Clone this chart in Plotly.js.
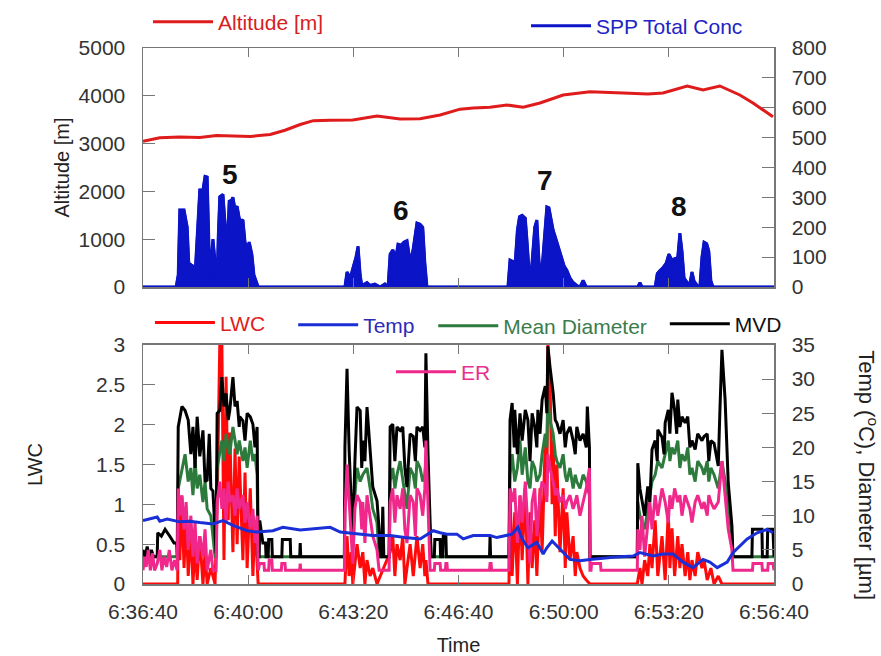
<!DOCTYPE html>
<html><head><meta charset="utf-8">
<script src="https://cdn.plot.ly/plotly-3.0.1.min.js"></script>
<style>html,body{margin:0;padding:0;background:#fff}#chart{width:881px;height:656px}</style>
</head><body><div id="chart"></div>
<script>
// time axis: seconds after 6:36:40
const TIME_TICK_SECONDS = [0,200,400,600,800,1000,1200];
const TIME_TICK_LABELS = ['6:36:40','6:40:00','6:43:20','6:46:40','6:50:00','6:53:20','6:56:40'];

const ALT_T = [0,32,70,108,140,165,204,242,270,299,324,356,399,445,489,527,565,603,628,660,692,723,755,799,850,913,960,989,1035,1065,1097,1135,1160,1198];
const ALT_M = [3050,3120,3140,3130,3170,3160,3150,3190,3280,3400,3480,3490,3494,3577,3515,3520,3600,3720,3745,3760,3808,3760,3850,4017,4086,4058,4040,4058,4205,4121,4205,4017,3850,3562];

const SPP_CONC = [[0,0],[63,0],[67,40],[70,258],[78,258],[84,200],[87,80],[95,70],[99,40],[103,167],[108,325],[114,325],[118,370],[122,368],[126,150],[127,30],[133,160],[137,80],[141,10],[143,160],[146,302],[152,310],[156,200],[160,120],[164,290],[167,285],[171,300],[175,260],[179,270],[183,230],[186,220],[190,225],[194,150],[198,130],[202,150],[207,110],[211,40],[215,20],[219,0],
[384,0],[388,50],[394,30],[405,100],[409,136],[413,40],[416,5],[426,15],[432,5],[441,10],[451,0],[460,10],[466,0],[470,110],[475,124],[481,100],[485,143],[491,140],[496,150],[502,155],[506,110],[510,90],[514,130],[518,180],[521,214],[527,210],[532,200],[536,80],[540,0],
[694,0],[698,90],[704,85],[707,60],[712,190],[716,235],[721,240],[727,230],[730,160],[734,60],[738,40],[742,150],[745,200],[749,224],[753,90],[757,20],[761,100],[765,200],[768,268],[772,265],[776,230],[780,190],[784,168],[789,140],[795,100],[801,70],[806,56],[812,30],[818,15],[825,5],[831,0],[837,22],[843,0],[941,0],[945,15],[949,0],
[974,0],[978,45],[983,55],[989,65],[995,80],[1000,110],[1006,90],[1011,95],[1017,100],[1021,180],[1025,120],[1029,30],[1035,15],[1040,10],[1044,50],[1048,20],[1054,5],[1059,0],[1063,100],[1067,150],[1072,145],[1076,120],[1080,20],[1084,0],[1200,0]];

const LWC = [[0,0],[66,0],[67,1.2],[70,0.3],[74,1.1],[78,0.2],[82,0.9],[86,0.1],[91,0.7],[95,0],[99,0.5],[103,0.05],[108,0.6],[114,0],[118,0.4],[122,0],[129,0.2],[137,0],[141,1.0],[146,3.0],[150,3.0],[152,0.9],[154,0.3],[158,2.6],[162,0.8],[165,1.9],[171,0.4],[175,1.7],[179,0.5],[183,1.6],[190,0.3],[194,1.4],[198,0.2],[204,1.2],[209,0.1],[213,0.8],[217,0.1],[219,0],
[384,0],[388,0.6],[392,0.1],[396,0.4],[399,0],[403,0.3],[407,0.5],[413,0.2],[418,0.4],[422,0],[426,0.3],[432,0.1],[437,0.2],[445,0],[470,0.4],[475,0.6],[479,0.1],[483,0.5],[489,0.3],[494,0.6],[498,0],[502,0.2],[508,0.5],[514,0.1],[518,0.4],[521,0.6],[527,0.2],[532,0.5],[536,0.1],[538,0.3],[542,0],
[696,0],[698,1.2],[702,0.1],[707,0.9],[712,0],[717,1.1],[721,0.3],[727,1.2],[732,0],[736,0.9],[740,0.2],[745,0.8],[749,0.1],[755,1.2],[759,0.4],[765,1.8],[768,1.1],[770,3.0],[774,2.6],[778,1.0],[780,1.8],[784,0.6],[787,1.5],[793,0.4],[799,1.2],[803,0.2],[806,0.9],[812,0.3],[818,0.6],[822,0.1],[825,0.4],[831,0.2],[837,0.1],[843,0.05],[850,0],
[940,0],[945,0.2],[949,0],[954,0.3],[960,0.1],[964,0.5],[968,0.2],[974,0.8],[979,0.1],[987,0.6],[993,0.05],[999,0.9],[1002,0.2],[1006,0.7],[1011,0.1],[1017,0.6],[1021,0.2],[1025,0.5],[1031,0.1],[1036,0.4],[1040,0.05],[1044,0.3],[1050,0.1],[1055,0.4],[1063,0.2],[1067,0.3],[1073,0.05],[1080,0.2],[1086,0],[1094,0.1],[1101,0],[1200,0]];

const TEMP = [[0,9.3],[13,9.5],[27,9.8],[32,9.2],[46,9.5],[70,9.1],[89,9.2],[108,9.0],[133,8.8],[152,9.3],[171,8.6],[198,7.8],[217,7.6],[247,7.8],[266,8.3],[299,7.9],[323,8.1],[356,8.3],[375,7.6],[413,7.3],[437,7.1],[470,7.1],[498,6.8],[527,6.6],[552,7.8],[565,7.5],[578,7.3],[597,7.3],[609,6.6],[628,7.1],[660,7.1],[673,6.8],[702,7.3],[713,8.3],[721,6.6],[732,5.3],[749,6.1],[761,4.4],[768,5.3],[778,6.3],[793,5.1],[812,3.6],[831,3.4],[850,3.6],[894,3.9],[932,4.1],[945,4.6],[970,4.1],[989,4.4],[1008,4.4],[1027,3.2],[1046,2.4],[1065,3.6],[1078,3.2],[1092,2.4],[1111,3.2],[1122,4.6],[1149,6.6],[1168,7.5],[1187,8.0],[1198,7.5]];

const MEAN_DIAM = [[0,4],[66,4],[67,14],[74,17],[80,19],[86,15],[91,17],[95,13],[99,18],[103,14],[108,16],[114,12],[118,15],[122,11],[129,10],[137,4],[139,4],[141,17],[146,19],[150,21],[154,18],[158,22],[162,20],[165,19],[171,23],[175,21],[179,19],[183,21],[190,18],[194,20],[198,17],[204,21],[209,18],[213,19],[217,16],[219,4],[383,4],
[384,12],[388,15],[396,10],[403,13],[407,17],[413,15],[418,16],[426,17],[432,14],[437,11],[445,9],[449,4],[451,4],[468,4],[470,15],[475,17],[479,14],[483,16],[489,18],[494,15],[498,13],[502,11],[508,17],[514,16],[518,14],[521,18],[527,17],[532,15],[536,16],[538,18],[542,14],[548,4],[696,4],
[698,16],[702,19],[707,15],[712,17],[717,21],[721,16],[727,20],[732,15],[736,14],[740,18],[745,17],[749,15],[755,16],[759,19],[765,22],[768,20],[770,27],[774,24],[780,22],[784,19],[787,18],[793,17],[799,19],[803,16],[806,15],[812,17],[818,14],[822,16],[825,15],[831,14],[837,16],[843,15],[849,13],[850,4],[940,4],
[941,12],[945,10],[949,9],[954,8],[960,11],[964,13],[968,15],[974,16],[979,18],[987,17],[993,19],[999,21],[1002,18],[1006,20],[1011,19],[1017,21],[1021,17],[1025,19],[1031,18],[1036,20],[1040,16],[1044,17],[1050,15],[1055,18],[1063,17],[1067,16],[1073,18],[1076,15],[1080,17],[1086,16],[1094,14],[1101,18],[1107,15],[1113,11],[1120,7],[1122,4],[1200,4]];

const MVD = [[0,5],[4,4],[8,5.5],[12,4],[16,5],[20,4],[27,4],[28,7.5],[35,7],[42,8],[51,7],[59,6],[64,6],[65,4],
[67,23],[74,26],[80,25.4],[86,24],[91,19],[95,23],[99,17],[103,24.5],[108,18.7],[114,22.5],[118,15],[122,15.2],[126,22],[129,14],[133,13.6],[137,8],[139,4.5],[141,25],[146,25.4],[150,30.3],[154,26],[158,27.9],[162,24],[165,25.4],[171,30.3],[175,26],[179,26.8],[183,23],[184,24.5],[190,23.9],[194,21],[198,25],[204,24.5],[209,23.4],[213,20],[217,23],[219,4],
[221,4],[222,9.3],[228,6],[233,6],[234,4],[238,4],[239,6.5],[245,6.5],[246,4],[264,4],[265,6.5],[280,6.5],[281,4],[298,4],[299,6],[300,4],[383,4],
[384,20],[388,31.5],[392,19.6],[396,12],[399,7.3],[403,18],[407,25.9],[413,25.4],[416,17],[418,21],[422,18],[426,25.9],[432,19.6],[437,14.2],[445,12.2],[449,8],[451,4],[454,4],[456,11.3],[458,4],[468,4],[470,23],[475,23.4],[479,18],[483,23],[489,22.5],[494,23],[498,17],[502,14.2],[508,22],[514,21.6],[518,18],[521,23],[527,22.5],[532,23],[536,20],[538,33.8],[542,19.1],[548,4],
[554,4],[555,6.5],[565,6.5],[566,4],[570,4],[571,7],[576,7],[577,4],[659,4],[660,7],[661,4],[696,4],
[698,24],[702,26.5],[706,20],[707,25.5],[712,19],[717,25],[721,21],[727,25.5],[732,24],[736,18],[740,25],[745,23],[749,20],[751,25.5],[755,22],[759,27],[765,29],[768,25],[770,34.8],[774,31.8],[780,28],[784,24],[787,23.6],[793,22],[799,24],[803,20],[806,22],[812,23],[818,21],[822,19],[825,23],[831,21],[837,22],[843,20],[845,26],[849,20],[850,4],
[940,4],[941,17.7],[945,14],[949,12.4],[954,10],[960,14.3],[964,12],[968,19.7],[974,21],[978,18],[979,22.6],[987,21.5],[991,19],[993,23.6],[999,25.5],[1002,22],[1006,28],[1011,25.5],[1015,22],[1017,27],[1021,23],[1025,24.5],[1031,23.6],[1036,24.5],[1040,20],[1044,21],[1050,19.7],[1055,22],[1063,21],[1067,21.6],[1073,22],[1076,18],[1080,21],[1086,20.6],[1094,17.3],[1097,25],[1101,34.3],[1107,27],[1113,14.8],[1120,8.5],[1122,4],
[1158,4],[1159,8],[1177,8],[1178,4],[1187,4],[1188,8],[1198,8],[1200,4]];

const ER = [[0,2],[3,4],[6,2.5],[10,5],[14,2],[18,4.5],[22,2],[27,3],[32,5],[36,2],[40,4],[45,2.5],[50,5],[55,2],[60,3.5],[65,2],
[67,14],[70,10],[74,13],[78,8],[82,12],[86,5],[91,10],[95,4],[99,9],[103,3],[108,7],[114,4],[118,8],[122,2],[129,5],[133,2],[139,2],[141,12],[146,15],[150,11],[154,14],[158,9],[162,15],[165,12],[171,13],[175,10],[179,14],[183,11],[190,13],[194,9],[198,12],[204,8],[209,11],[213,6],[217,10],[219,2],
[222,3],[230,3],[231,2],[239,2],[240,3.5],[245,3.5],[246,2],[263,2],[264,3],[270,3],[271,2],[298,2],[299,3],[300,2],[383,2],
[384,10],[388,17.5],[392,12],[396,6],[399,3],[403,11],[407,13],[413,12],[416,8],[418,12],[422,6],[426,13],[432,10],[437,7],[445,5],[449,2],[468,2],[470,12],[475,14],[479,9],[483,13],[489,11],[494,14],[498,8],[502,6],[508,13],[514,12],[518,7],[521,14],[527,13],[532,10],[536,14],[538,21],[542,12],[546,2],
[554,2],[555,3],[565,3],[566,2],[575,2],[576,3],[578,3],[579,2],[659,2],[660,3],[662,3],[663,2],[696,2],
[698,14],[702,12],[707,14],[712,6],[717,13],[721,9],[727,15],[732,8],[736,3],[740,12],[745,14],[749,7],[755,13],[759,15],[765,14],[768,12],[770,19],[774,17],[780,15],[784,13],[787,14],[793,12],[799,13],[803,11],[806,12],[812,13],[818,11],[822,12],[825,13],[831,10],[837,12],[843,14],[849,17],[850,2],
[852,2],[853,3],[870,3],[871,2],[940,2],
[941,8],[945,5],[949,10],[954,4],[960,9],[964,12],[968,8],[974,13],[979,10],[987,14],[993,12],[999,9],[1002,13],[1006,11],[1011,14],[1017,12],[1021,13],[1025,10],[1031,13],[1036,12],[1040,11],[1044,9],[1050,12],[1055,13],[1063,11],[1067,12],[1073,10],[1076,13],[1080,12],[1086,11],[1094,12],[1101,18],[1107,13],[1113,8],[1120,5],[1122,2],
[1159,2],[1160,3],[1177,3],[1178,2],[1188,2],[1189,3],[1198,3],[1200,2]];

// cloud pass labels: [seconds, altitude-axis height, label]
const PASS_LABELS = [[165,2364,'5'],[491,1611,'6'],[765,2238,'7'],[1019,1674,'8']];

const FONT = 'Liberation Sans, Arial, sans-serif';
const xs = p => p.map(d => d[0]);
const ys = p => p.map(d => d[1]);
const nm = (t, c) => '<span style="color:' + c + '">' + t + '</span>';

const traces = [
  {x: ALT_T, y: ALT_M, xaxis:'x2', yaxis:'y', mode:'lines', name: nm('Altitude [m]','#d82020'),
   line:{color:'#e01b1b', width:3}, legend:'legend'},
  {x: xs(SPP_CONC), y: ys(SPP_CONC), xaxis:'x2', yaxis:'y2', mode:'lines', showlegend:false,
   line:{color:'#0c14c8', width:2.5}, fill:'tozeroy', fillcolor:'#0c14c8'},
  {x: xs(SPP_CONC), y: ys(SPP_CONC), xaxis:'x2', yaxis:'y2', mode:'lines', name: nm('SPP Total Conc','#2323c4'),
   line:{color:'#0c14c8', width:3}, legend:'legend2'},
  {x: xs(MEAN_DIAM), y: ys(MEAN_DIAM), xaxis:'x', yaxis:'y4', mode:'lines', name: nm('Mean Diameter','#3b7c4b'),
   line:{color:'#2c7a3c', width:3}, legend:'legend5'},
  {x: xs(MVD), y: ys(MVD), xaxis:'x', yaxis:'y4', mode:'lines', name: nm('MVD','#111'),
   line:{color:'#000', width:3}, legend:'legend6'},
  {x: xs(ER), y: ys(ER), xaxis:'x', yaxis:'y4', mode:'lines', name: nm('ER','#e8308f'),
   line:{color:'#f0288c', width:3}, legend:'legend7'},
  {x: xs(LWC), y: ys(LWC), xaxis:'x', yaxis:'y3', mode:'lines', name: nm('LWC','#e02020'),
   line:{color:'#ff0a0a', width:3}, legend:'legend3'},
  {x: xs(TEMP), y: ys(TEMP), xaxis:'x', yaxis:'y4', mode:'lines', name: nm('Temp','#2c2cb8'),
   line:{color:'#1a2fd6', width:3}, legend:'legend4'}
];

const AX = '#777';
const TICKFONT = {family:FONT, size:21, color:'#333'};
const base = {showgrid:false, zeroline:false, showline:true, linecolor:AX, linewidth:1.5,
  ticks:'inside', tickcolor:AX, tickwidth:1.2, tickfont:TICKFONT};
const topDom = [0.5541, 1], botDom = [0, 0.4459];

const legendAt = (x, y) => ({orientation:'h', bgcolor:'rgba(0,0,0,0)', itemwidth:60, yanchor:'middle', xanchor:'left',
  font:{family:FONT, size:21}, itemclick:false, itemdoubleclick:false, x:x, y:y});

const layout = {
  width:881, height:656, margin:{l:143, r:107, t:48, b:72, autoexpand:false},
  paper_bgcolor:'#fff', plot_bgcolor:'#fff', font:{family:FONT, size:21, color:'#222'},
  showlegend:true,
  xaxis: Object.assign({}, base, {domain:[0,1], anchor:'y3', range:[0,1200], tickvals:TIME_TICK_SECONDS, ticktext:TIME_TICK_LABELS,
    mirror:'ticks', ticklen:9, ticklabelstandoff:8, title:{text:'Time', standoff:16, font:{family:FONT, size:20, color:'#222'}}}),
  xaxis2: Object.assign({}, base, {domain:[0,1], anchor:'y', range:[0,1200], tickvals:TIME_TICK_SECONDS, showticklabels:false,
    mirror:'ticks', ticklen:9}),
  yaxis: Object.assign({}, base, {domain:topDom, anchor:'x2', range:[0,5000], dtick:1000, ticklen:12, ticklabelstandoff:12,
    title:{text:'Altitude [m]', standoff:3, font:{family:FONT, size:20, color:'#222'}}}),
  yaxis2: Object.assign({}, base, {overlaying:'y', side:'right', anchor:'x2', range:[0,800], dtick:100, ticklen:12, ticklabelstandoff:12}),
  yaxis3: Object.assign({}, base, {domain:botDom, anchor:'x', range:[0,3], dtick:0.5, ticklen:12, ticklabelstandoff:12,
    title:{text:'LWC', standoff:48, font:{family:FONT, size:20, color:'#222'}}}),
  yaxis4: Object.assign({}, base, {overlaying:'y3', side:'right', anchor:'x', range:[0,35], dtick:5, ticklen:12, ticklabelstandoff:12}),
  legend:  legendAt(0.008, 1.0485),
  legend2: legendAt(0.607, 1.041),
  legend3: legendAt(0.011, 0.487),
  legend4: legendAt(0.238, 0.483),
  legend5: legendAt(0.46, 0.481),
  legend6: legendAt(0.827, 0.485),
  legend7: legendAt(0.393, 0.3955),
  annotations: PASS_LABELS.map(p => ({xref:'x2', yref:'y', x:p[0], y:p[1], text:'<b>'+p[2]+'</b>', showarrow:false,
      font:{family:FONT, size:28, color:'#111'}})).concat([
    {xref:'paper', yref:'paper', x:1.149, y:0.203, xanchor:'center', yanchor:'middle', textangle:90, showarrow:false,
     text:'Temp (<sup>o</sup>C), Diameter [µm]', font:{family:FONT, size:22, color:'#222'}}
  ])
};

Plotly.newPlot('chart', traces, layout, {displayModeBar:false, staticPlot:true});
</script>
</body></html>
